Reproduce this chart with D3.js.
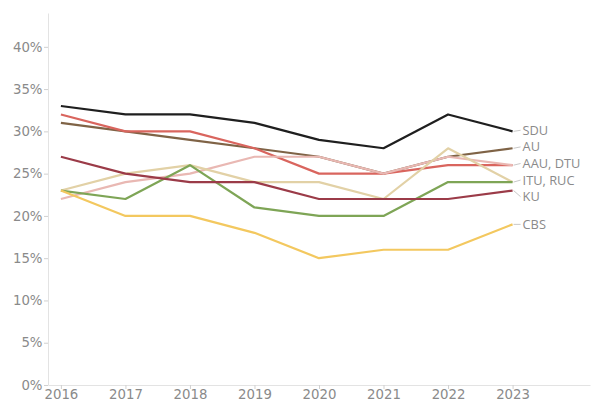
<!DOCTYPE html>
<html><head><meta charset="utf-8">
<script src="https://cdn.jsdelivr.net/npm/d3@7"></script>
<style>body{margin:0;background:#fff}svg{display:block;font-family:"Open Sans",sans-serif}</style>
</head><body><svg id="c" width="595" height="411"></svg>
<script>
const years = [2016, 2017, 2018, 2019, 2020, 2021, 2022, 2023];
const yTicks = [0, 0.05, 0.10, 0.15, 0.20, 0.25, 0.30, 0.35, 0.40];
const sdu = [0.33, 0.32, 0.32, 0.31, 0.29, 0.28, 0.32, 0.30];
const au = [0.31, 0.30, 0.29, 0.28, 0.27, 0.25, 0.27, 0.28];
const aau = [0.32, 0.30, 0.30, 0.28, 0.25, 0.25, 0.26, 0.26];
const dtu = [0.22, 0.24, 0.25, 0.27, 0.27, 0.25, 0.27, 0.26];
const itu = [0.23, 0.25, 0.26, 0.24, 0.24, 0.22, 0.28, 0.24];
const ruc = [0.23, 0.22, 0.26, 0.21, 0.20, 0.20, 0.24, 0.24];
const ku = [0.27, 0.25, 0.24, 0.24, 0.22, 0.22, 0.22, 0.23];
const cbs = [0.23, 0.20, 0.20, 0.18, 0.15, 0.16, 0.16, 0.19];

const series = [
  {name: "SDU", values: sdu, color: "#1f1f1f", label: "SDU"},
  {name: "AU", values: au, color: "#7f6346", label: "AU"},
  {name: "AAU", values: aau, color: "#d9655e", label: "AAU, DTU"},
  {name: "DTU", values: dtu, color: "#e9b8b3", label: null},
  {name: "ITU", values: itu, color: "#e2d1a6", label: "ITU, RUC"},
  {name: "RUC", values: ruc, color: "#7ea556", label: null},
  {name: "KU", values: ku, color: "#9b3b48", label: "KU"},
  {name: "CBS", values: cbs, color: "#f3c85f", label: "CBS"}
];

const svg = d3.select("#c");
const mLeft = 48, mRight = 590, mTop = 13, mBottom = 385;
const x = d3.scaleLinear().domain([2015.8, 2024.2]).range([mLeft, mRight]);
const y = d3.scaleLinear().domain([0, 0.44]).range([mBottom, mTop]);

const axisColor = "#e3e3e3", textColor = "#8a8a8a";

const xAxis = svg.append("g").attr("transform", `translate(0,${mBottom})`)
  .call(d3.axisBottom(x).tickValues(years).tickFormat(d3.format("d")).tickSize(4).tickSizeOuter(0).tickPadding(3));
const yAxis = svg.append("g").attr("transform", `translate(${mLeft},0)`)
  .call(d3.axisLeft(y).tickValues(yTicks).tickFormat(d3.format(".0%")).tickSize(4).tickSizeOuter(0).tickPadding(1.5));
[xAxis, yAxis].forEach(g => {
  g.select(".domain").attr("stroke", axisColor).attr("stroke-width", 1);
  g.selectAll(".tick line").attr("stroke", "#d0d0d0");
  g.selectAll("text").attr("fill", textColor).attr("font-size", 13.3).attr("font-family", "DejaVu Sans, sans-serif");
});
xAxis.selectAll("text").attr("dy", "0.55em");

const line = d3.line().x((d, i) => x(years[i])).y(d => y(d));
svg.append("g").selectAll("path").data(series).join("path")
  .attr("d", d => line(d.values))
  .attr("fill", "none").attr("stroke", d => d.color).attr("stroke-width", 2.2)
  .attr("stroke-linejoin", "round");

// label layout: cluster-centred spreading
const labs = series.filter(s => s.label).map(s => ({s, target: y(s.values[s.values.length - 1])}));
labs.sort((a, b) => a.target - b.target);
const gap = 16.6;
let clusters = labs.map(l => ({items: [l], center: l.target}));
let changed = true;
while (changed) {
  changed = false;
  for (let i = 0; i < clusters.length - 1; i++) {
    const a = clusters[i], b = clusters[i + 1];
    const aEnd = a.center + (a.items.length - 1) * gap / 2;
    const bStart = b.center - (b.items.length - 1) * gap / 2;
    if (bStart - aEnd < gap) {
      const items = a.items.concat(b.items);
      const center = d3.mean(items, d => d.target);
      clusters.splice(i, 2, {items, center});
      changed = true;
      break;
    }
  }
}
clusters.forEach(c => c.items.forEach((it, k) => it.pos = c.center + (k - (c.items.length - 1) / 2) * gap));

const lx = x(2023);
const lg = svg.append("g");
labs.forEach(l => {
  lg.append("line").attr("x1", lx + 1).attr("y1", l.target).attr("x2", lx + 8).attr("y2", l.pos)
    .attr("stroke", "#c8c8c8").attr("stroke-width", 1);
  lg.append("text").attr("x", lx + 10).attr("y", l.pos).attr("dy", "0.35em")
    .attr("fill", textColor).attr("font-size", 12.8).text(l.s.label);
});
</script></body></html>
